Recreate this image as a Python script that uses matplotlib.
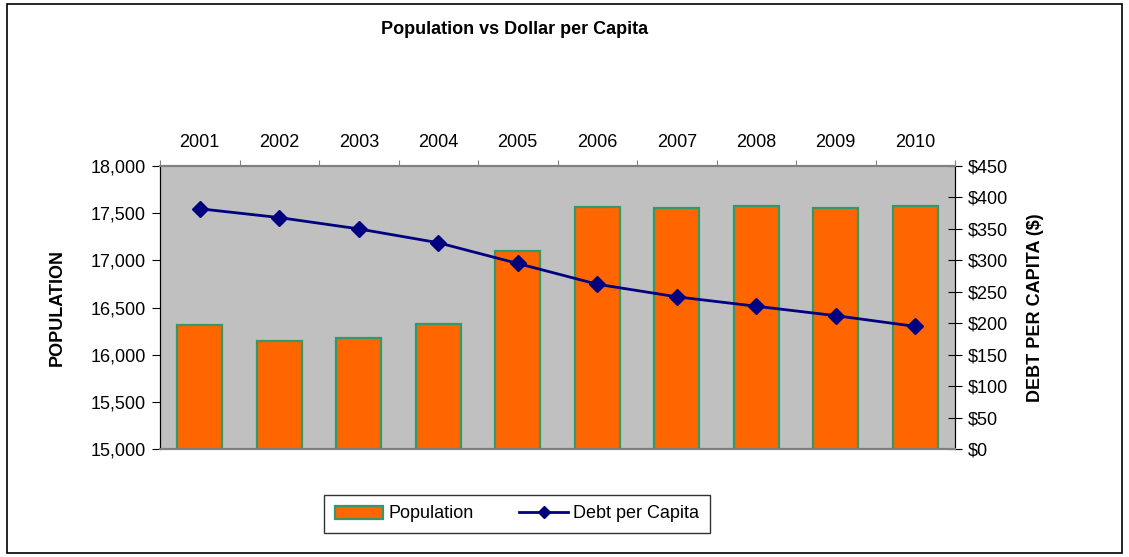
import numpy as np
import matplotlib.pyplot as plt
from matplotlib.patches import Rectangle
from matplotlib.ticker import FuncFormatter

plt.rcParams['font.family'] = ['Liberation Sans', 'DejaVu Sans']

years = ['2001', '2002', '2003', '2004', '2005', '2006', '2007', '2008', '2009', '2010']
population = [16314, 16148, 16173, 16325, 17102, 17568, 17558, 17576, 17558, 17576]
debt_per_capita = [382, 368, 350, 328, 295, 262, 242, 227, 212, 195]

fig = plt.figure(figsize=(11.29, 5.57), dpi=100)
ax = fig.add_axes([160 / 1129, 1 - 449 / 557, 795 / 1129, 283 / 557])
ax.set_facecolor('#C0C0C0')

x = np.arange(len(years))
bars = ax.bar(x, population, width=0.56, bottom=0, color='#FF6600',
              edgecolor='#339966', linewidth=1.6, label='Population', zorder=2)
ax.set_ylim(15000, 18000)
ax.set_xlim(-0.5, len(years) - 0.5)
ax.set_yticks(np.arange(15000, 18001, 500))
ax.yaxis.set_major_formatter(FuncFormatter(lambda v, p: f'{int(v):,}'))
ax.tick_params(axis='y', direction='out', length=6, labelsize=13, pad=4)
ax.set_ylabel('POPULATION', fontsize=13, fontweight='bold', labelpad=18)

# category axis drawn along the top
ax.xaxis.tick_top()
ax.set_xticks(np.arange(-0.5, len(years), 1.0))
ax.set_xticklabels([])
ax.set_xticks(x, minor=True)
ax.set_xticklabels(years, minor=True)
ax.tick_params(axis='x', which='major', direction='out', length=4, color='#808080')
ax.tick_params(axis='x', which='minor', length=0, labelsize=13, pad=11)

ax2 = ax.twinx()
line, = ax2.plot(x, debt_per_capita, color='#000080', linewidth=2, marker='D',
                 markersize=8, label='Debt per Capita', zorder=3)
ax2.set_ylim(0, 450)
ax2.set_yticks(np.arange(0, 451, 50))
ax2.yaxis.set_major_formatter(FuncFormatter(lambda v, p: f'${int(v)}'))
ax2.tick_params(axis='y', direction='inout', length=10, labelsize=13, pad=4)
ax2.set_ylabel('DEBT PER CAPITA ($)', fontsize=13, fontweight='bold', labelpad=14)

for a in (ax, ax2):
    a.spines['top'].set_color('#808080')
    a.spines['bottom'].set_color('#808080')
    a.spines['top'].set_linewidth(1.5)
    a.spines['bottom'].set_linewidth(1.5)
    a.spines['left'].set_color('black')
    a.spines['right'].set_color('black')

fig.text(515 / 1129, 1 - 30 / 557, 'Population vs Dollar per Capita',
         ha='center', va='center', fontsize=13, fontweight='bold')

leg = fig.legend([bars, line], ['Population', 'Debt per Capita'],
                 loc='center', bbox_to_anchor=(517 / 1129, 1 - 514 / 557),
                 ncol=2, fontsize=13, frameon=True, fancybox=False,
                 edgecolor='black', handlelength=2.7, handletextpad=0.3,
                 columnspacing=2.5, borderpad=0.6, markerscale=0.8)
leg.get_frame().set_linewidth(1.0)

fig.patches.append(Rectangle((7 / 1129, 4 / 557), 1115 / 1129, 549 / 557,
                             transform=fig.transFigure, fill=False,
                             edgecolor='black', linewidth=1.2))

fig.savefig('out.png', dpi=100)
